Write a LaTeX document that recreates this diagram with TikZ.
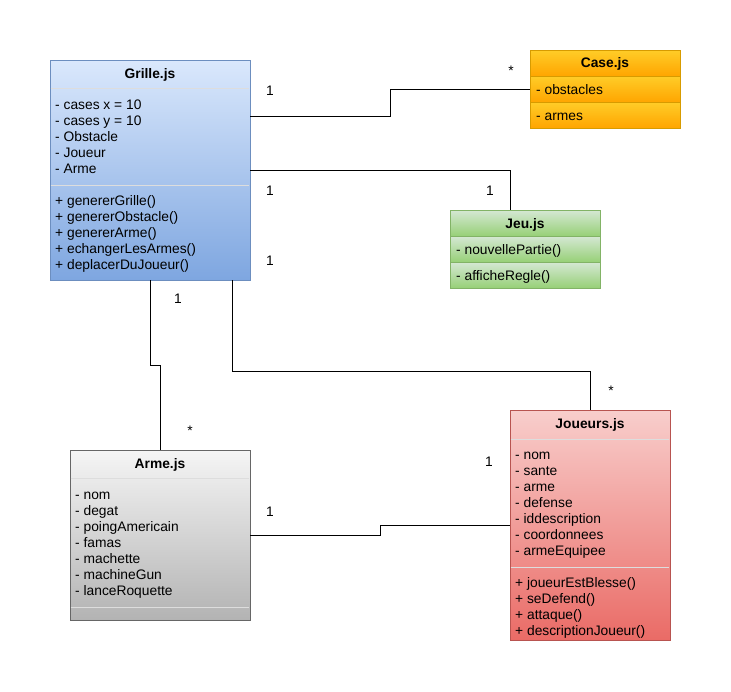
\documentclass[tikz,border=0pt]{standalone}
\usepackage{fontspec}
\setmainfont{Liberation Sans}
\usetikzlibrary{calc}

% class colours: fill top, fill bottom, stroke
\definecolor{grilleTop}{HTML}{DAE8FC}
\definecolor{grilleBot}{HTML}{7EA6E0}
\definecolor{grilleLine}{HTML}{6C8EBF}
\definecolor{caseTop}{HTML}{FFCD28}
\definecolor{caseBot}{HTML}{FFA500}
\definecolor{caseLine}{HTML}{D79B00}
\definecolor{jeuTop}{HTML}{D5E8D4}
\definecolor{jeuBot}{HTML}{97D077}
\definecolor{jeuLine}{HTML}{82B366}
\definecolor{armeTop}{HTML}{F5F5F5}
\definecolor{armeBot}{HTML}{B3B3B3}
\definecolor{armeLine}{HTML}{666666}
\definecolor{joueurTop}{HTML}{F8CECC}
\definecolor{joueurBot}{HTML}{EA6B66}
\definecolor{joueurLine}{HTML}{B85450}
\definecolor{sepLine}{HTML}{DDDDDD}

\begin{document}
\begin{tikzpicture}[x=1pt,y=-1pt,
  font=\fontsize{13.8}{16}\selectfont,
  classbox/.style={draw, inner sep=0pt, outer sep=0pt, anchor=north west, line width=0.9pt},
  ctitle/.style={inner sep=0pt, font=\fontsize{13.8}{16}\selectfont\bfseries,
                 text height=9.9pt, text depth=2.9pt},
  item/.style={anchor=west, inner sep=0pt, text height=9.9pt, text depth=2.9pt},
  mult/.style={inner sep=0pt, text height=9.9pt, text depth=2.9pt},
  sep/.style={draw=sepLine, line width=1pt},
  link/.style={draw=black, line width=0.9pt}]

\useasboundingbox (0,0) rectangle (731,691);
\fill[white] (0,0) rectangle (731,691);

% ---------- Grille.js ----------
\node[classbox, draw=grilleLine, top color=grilleTop, bottom color=grilleBot,
      minimum width=200pt, minimum height=220pt] (grille) at (50,60) {};
\draw[sep] (50.6,88) -- (249.4,88);
\draw[sep] (50.6,185) -- (249.4,185);
\node[ctitle] (grilleT) at (150,75) {Grille.js};
\foreach \t [count=\i] in {- cases x = 10, - cases y = 10, - Obstacle, - Joueur, - Arme}
  \node[item] (ga\i) at (55,{106+16*(\i-1)}) {\t};
\foreach \t [count=\i] in {+ genererGrille(), + genererObstacle(), + genererArme(),
                           + echangerLesArmes(), + deplacerDuJoueur()}
  \node[item] (gm\i) at (55,{202+16*(\i-1)}) {\t};

% ---------- Case.js ----------
\node[classbox, draw=caseLine, top color=caseTop, bottom color=caseBot,
      minimum width=150pt, minimum height=26pt] (caseH) at (530,50) {};
\node[classbox, draw=caseLine, top color=caseTop, bottom color=caseBot,
      minimum width=150pt, minimum height=26pt] (caseR1) at (530,76) {};
\node[classbox, draw=caseLine, top color=caseTop, bottom color=caseBot,
      minimum width=150pt, minimum height=26pt] (caseR2) at (530,102) {};
\node[ctitle] (caseT) at ([yshift=-1pt]caseH.center) {Case.js};
\node[item] (ca1) at ([xshift=6pt,yshift=-2pt]caseR1.west) {- obstacles};
\node[item] (ca2) at ([xshift=6pt,yshift=-2pt]caseR2.west) {- armes};

% ---------- Jeu.js ----------
\node[classbox, draw=jeuLine, top color=jeuTop, bottom color=jeuBot,
      minimum width=150pt, minimum height=26pt] (jeuH) at (450,210) {};
\node[classbox, draw=jeuLine, top color=jeuTop, bottom color=jeuBot,
      minimum width=150pt, minimum height=26pt] (jeuR1) at (450,236) {};
\node[classbox, draw=jeuLine, top color=jeuTop, bottom color=jeuBot,
      minimum width=150pt, minimum height=26pt] (jeuR2) at (450,262) {};
\node[ctitle] (jeuT) at ([yshift=-2pt]jeuH.center) {Jeu.js};
\node[item] (ja1) at ([xshift=6pt,yshift=-2pt]jeuR1.west) {- nouvellePartie()};
\node[item] (ja2) at ([xshift=6pt,yshift=-2pt]jeuR2.west) {- afficheRegle()};

% ---------- Arme.js ----------
\node[classbox, draw=armeLine, top color=armeTop, bottom color=armeBot,
      minimum width=180pt, minimum height=170pt] (arme) at (70,450) {};
\draw[sep] (70.6,478) -- (249.4,478);
\draw[sep] (70.6,607) -- (249.4,607);
\node[ctitle] (armeT) at (160,465) {Arme.js};
\foreach \t [count=\i] in {- nom, - degat, - poingAmericain, - famas, - machette,
                           - machineGun, - lanceRoquette}
  \node[item] (aa\i) at (75,{496+16*(\i-1)}) {\t};

% ---------- Joueurs.js ----------
\node[classbox, draw=joueurLine, top color=joueurTop, bottom color=joueurBot,
      minimum width=160pt, minimum height=230pt] (joueurs) at (510,410) {};
\draw[sep] (510.6,439) -- (669.4,439);
\draw[sep] (510.6,567) -- (669.4,567);
\node[ctitle] (joueursT) at (590,425) {Joueurs.js};
\foreach \t [count=\i] in {- nom, - sante, - arme, - defense, - iddescription,
                           - coordonnees, - armeEquipee}
  \node[item] (pa\i) at (515,{456+16*(\i-1)}) {\t};
\foreach \t [count=\i] in {+ joueurEstBlesse(), + seDefend(), + attaque(),
                           + descriptionJoueur()}
  \node[item] (pm\i) at (515,{584+16*(\i-1)}) {\t};

% ---------- associations ----------
\draw[link] ([yshift=-56pt]grille.north east) -- ++(140,0) |- (caseR1.west);
\draw[link] ([yshift=-110pt]grille.north east) -| ([xshift=-15pt]jeuH.north);
\draw[link] ([xshift=-18pt]grille.south east) -- ++(0,91) -| (joueurs.north);
\draw[link] (grille.south) -- ++(0,85) -| (arme.north);
\draw[link] (arme.east) -- ++(130,0) |- ([yshift=-115pt]joueurs.north west);

% ---------- multiplicities ----------
\node[mult] (m1) at (270,92) {1};
\node[mult] (m2) at (511,72) {*};
\node[mult] (m3) at (270,192) {1};
\node[mult] (m4) at (490,192) {1};
\node[mult] (m5) at (270,262) {1};
\node[mult] (m6) at (178,300) {1};
\node[mult] (m7) at (190,432) {*};
\node[mult] (m8) at (611,392) {*};
\node[mult] (m9) at (489,463) {1};
\node[mult] (m10) at (270,513) {1};

\end{tikzpicture}
\end{document}
